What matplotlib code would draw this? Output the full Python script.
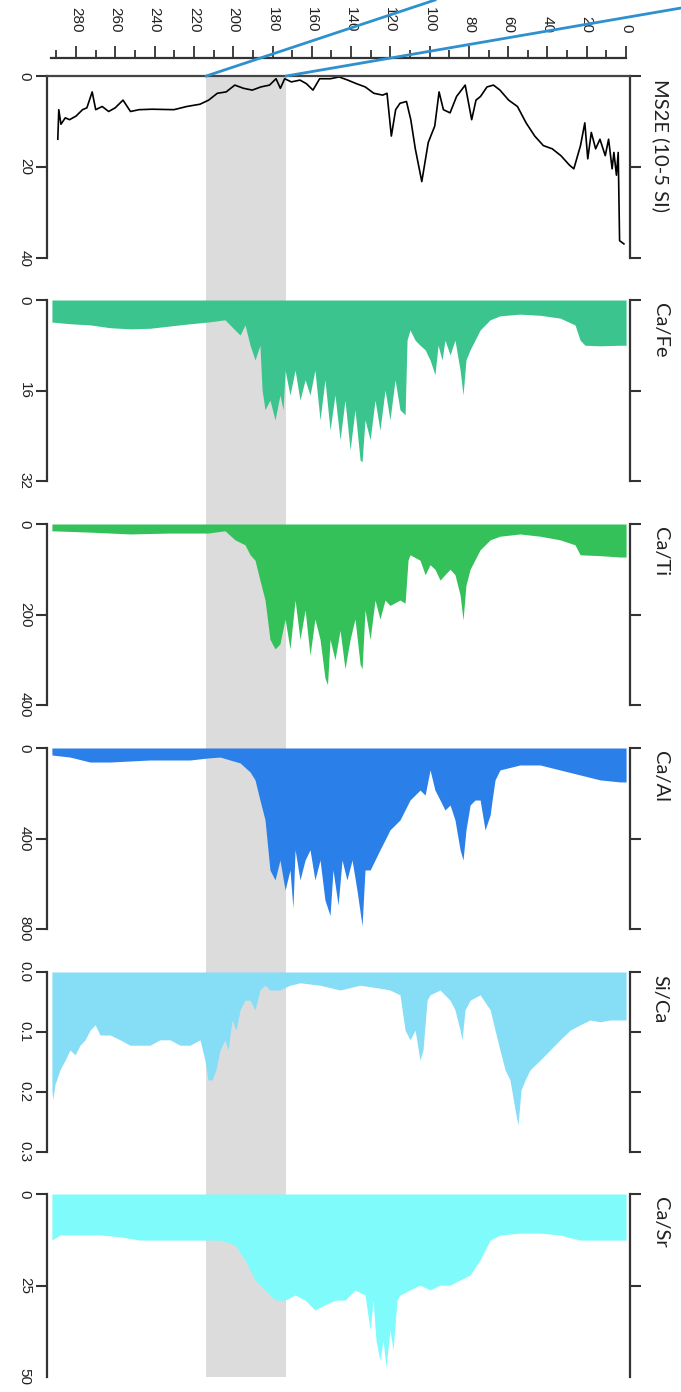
import numpy as np
import matplotlib
matplotlib.use('Agg')
import matplotlib.pyplot as plt
from matplotlib.lines import Line2D

# ---- data (depth in cm, values per proxy) ----
ms_depth = [289.3, 288.8, 287.7, 285.5, 283.3, 280.0, 276.7, 274.5, 271.8, 270.0, 266.7, 263.4,
            260.1, 256.1, 252.3, 247.9, 241.3, 230.2, 223.6, 216.9, 212.5, 208.1, 203.6, 199.2,
            194.8, 190.3, 185.9, 181.5, 178.2, 176.0, 173.8, 170.4, 166.0, 162.7, 159.4, 156.0,
            150.5, 146.1, 141.7, 137.2, 132.8, 128.4, 123.9, 121.7, 119.5, 117.3, 115.1, 111.8,
            109.6, 107.3, 104.0, 100.7, 97.4, 95.2, 93.0, 89.6, 86.3, 81.9, 78.6, 76.4, 74.1,
            70.8, 67.5, 64.2, 59.8, 55.3, 50.9, 46.5, 42.1, 37.6, 33.2, 28.8, 26.6, 23.2, 21.0,
            19.5, 17.7, 15.5, 13.3, 10.6, 8.9, 7.1, 6.2, 4.9, 4.0, 3.3, 1.1]
ms_vals = [13.9, 7.4, 10.6, 9.2, 9.6, 8.8, 7.4, 7.0, 3.5, 7.4, 6.7, 7.8,
           7.0, 5.3, 7.8, 7.4, 7.3, 7.4, 6.7, 6.2, 5.3, 3.8, 3.5, 2.0,
           2.7, 3.1, 2.4, 2.0, 0.6, 2.7, 0.6, 1.3, 0.9, 1.7, 3.1, 0.6,
           0.6, 0.2, 0.9, 1.7, 2.4, 3.8, 4.2, 3.8, 13.2, 7.4, 6.0, 5.6,
           9.6, 16.0, 23.2, 14.6, 11.0, 3.5, 7.4, 8.1, 4.5, 2.0, 9.6, 5.3, 4.5,
           2.4, 2.0, 3.1, 5.3, 6.7, 10.3, 13.2, 15.3, 16.0, 17.5, 19.6, 20.4, 15.3, 10.3,
           18.2, 12.4, 16.0, 13.9, 17.5, 13.9, 20.4, 16.8, 21.8, 16.8, 36.2, 36.9]

cafe_depth = [292.3, 283.0, 272.9, 262.7, 252.5, 242.4, 232.2, 222.0, 212.8, 204.2, 199.1, 196.5,
              194.0, 191.4, 188.9, 186.4, 185.3, 183.8, 181.3, 178.7, 176.2, 174.6, 173.6, 171.1,
              168.5, 166.0, 163.4, 160.9, 158.4, 155.8, 153.3, 150.7, 148.2, 145.6, 143.1, 140.5,
              138.0, 135.4, 134.4, 132.9, 130.3, 127.8, 125.3, 122.7, 120.2, 117.6, 115.1, 112.5,
              111.5, 110.0, 107.4, 104.9, 102.3, 99.8, 97.3, 95.7, 93.7, 92.2, 89.6, 87.1, 84.5,
              83.0, 81.5, 79.4, 76.9, 74.3, 69.2, 64.2, 54.0, 43.8, 33.6, 26.0, 23.4, 20.9, 13.2,
              3.1, 0.0]
cafe_vals = [3.9, 4.2, 4.4, 4.9, 5.1, 5.0, 4.6, 4.2, 3.9, 3.5, 5.3, 6.2,
             4.4, 8.0, 10.6, 8.0, 15.9, 19.4, 17.7, 21.2, 16.8, 19.4, 12.4, 16.8,
             12.4, 17.7, 14.1, 16.8, 12.4, 21.2, 14.1, 23.0, 16.8, 24.7, 17.7, 26.5,
             19.4, 28.3, 28.6, 21.2, 24.7, 17.7, 23.0, 15.9, 21.2, 14.1, 19.4, 20.3,
             7.1, 5.3, 7.1, 8.0, 8.8, 10.6, 13.2, 8.0, 10.6, 7.1, 9.7, 7.1, 12.4,
             16.8, 10.6, 8.8, 7.1, 5.3, 3.5, 2.8, 2.5, 2.7, 3.2, 4.4, 7.1, 8.0, 8.1,
             8.0, 8.0]

cati_depth = [292.3, 272.9, 252.5, 232.2, 212.8, 204.2, 199.1, 194.0, 191.4, 188.9, 186.4, 183.8,
              181.3, 178.7, 176.2, 173.6, 171.1, 168.5, 166.0, 163.4, 160.9, 158.4, 155.8, 153.3,
              152.0, 150.7, 148.2, 145.6, 143.1, 140.5, 138.0, 135.4, 134.4, 132.9, 130.3, 127.8,
              125.3, 122.7, 120.2, 115.1, 112.5, 111.0, 110.0, 104.9, 102.3, 99.8, 97.3, 94.7,
              92.2, 89.6, 87.1, 84.5, 83.0, 81.5, 79.4, 74.3, 69.2, 64.2, 54.0, 43.8, 33.6, 26.0,
              23.4, 13.2, 3.1, 0.0]
cati_vals = [15, 18, 22, 20, 20, 15, 35, 46, 68, 80, 124, 168,
             255, 276, 265, 210, 276, 168, 255, 190, 290, 210, 255, 340,
             355, 255, 300, 235, 320, 255, 210, 310, 320, 190, 255, 168,
             210, 168, 180, 168, 175, 80, 68, 80, 112, 90, 100, 124,
             112, 100, 112, 157, 212, 135, 100, 57, 35, 27, 22, 27, 35, 46,
             68, 70, 73, 73]

caal_depth = [292.3, 283.1, 272.9, 262.7, 242.4, 222.0, 212.8, 206.7, 201.6, 196.5, 191.4, 188.9,
              186.4, 183.8, 181.3, 178.7, 176.2, 173.6, 171.1, 169.6, 168.5, 166.0, 163.4, 160.9,
              158.4, 155.8, 153.3, 150.7, 149.2, 146.6, 144.6, 142.1, 139.5, 137.0, 134.4, 132.9,
              130.3, 127.8, 125.3, 122.7, 120.2, 115.1, 110.0, 104.9, 102.3, 99.8, 97.3, 94.7,
              92.2, 89.6, 87.1, 84.5, 83.0, 81.5, 79.4, 76.9, 74.3, 71.8, 69.2, 68.2, 66.7, 64.2,
              54.0, 43.8, 33.6, 23.4, 13.2, 3.1, 0.0]
caal_vals = [31, 40, 62, 62, 53, 53, 44, 40, 53, 66, 106, 141,
             230, 318, 539, 583, 495, 628, 539, 707, 450, 583, 495, 450,
             583, 495, 672, 740, 539, 694, 495, 583, 495, 628, 785, 539,
             539, 495, 450, 406, 362, 318, 230, 186, 208, 97, 186, 230,
             274, 252, 318, 450, 495, 362, 252, 230, 230, 362, 296, 230, 141, 97,
             75, 75, 97, 119, 141, 150, 150]

sica_depth = [292.3, 291.8, 290.8, 288.2, 285.6, 283.1, 280.5, 278.0, 275.4, 272.9, 270.3, 267.8,
              262.7, 257.6, 252.5, 247.5, 242.4, 237.3, 232.2, 227.1, 222.0, 216.9, 214.4, 212.8,
              210.8, 208.8, 206.7, 204.2, 202.6, 200.6, 198.6, 196.5, 194.0, 191.4, 188.9, 186.4,
              183.8, 181.3, 176.2, 171.1, 166.0, 155.8, 145.6, 135.4, 125.3, 120.2, 115.1, 112.5,
              110.0, 107.4, 104.9, 103.4, 101.3, 99.8, 94.7, 89.6, 87.1, 84.5, 83.5, 82.0, 79.4,
              74.3, 69.2, 66.7, 64.2, 61.6, 59.1, 56.5, 55.0, 53.5, 51.4, 48.9, 43.8, 38.7, 33.6,
              28.5, 23.4, 18.3, 13.2, 8.1, 3.1, 0.0]
sica_vals = [0.197, 0.213, 0.188, 0.163, 0.147, 0.130, 0.138, 0.122, 0.113, 0.097, 0.088, 0.105,
             0.105, 0.113, 0.122, 0.122, 0.122, 0.113, 0.113, 0.122, 0.122, 0.113, 0.147, 0.180,
             0.180, 0.163, 0.130, 0.113, 0.130, 0.080, 0.097, 0.063, 0.047, 0.047, 0.063, 0.030,
             0.022, 0.030, 0.030, 0.022, 0.018, 0.022, 0.030, 0.022, 0.027, 0.030, 0.038, 0.097,
             0.113, 0.097, 0.147, 0.130, 0.047, 0.038, 0.030, 0.047, 0.063, 0.097, 0.113, 0.063, 0.047,
             0.038, 0.063, 0.097, 0.130, 0.163, 0.180, 0.230, 0.255, 0.197, 0.180, 0.163, 0.147, 0.130, 0.113,
             0.097, 0.088, 0.080, 0.083, 0.080, 0.080, 0.080]

casr_depth = [292.3, 288.2, 278.0, 267.8, 257.6, 247.5, 237.3, 227.1, 216.9, 206.7, 199.1, 194.0,
              188.9, 183.8, 178.7, 173.6, 168.5, 163.4, 158.4, 153.3, 148.2, 143.1, 138.0, 132.9,
              130.3, 128.8, 127.3, 125.3, 123.7, 122.2, 120.2, 118.6, 116.6, 115.1, 110.0, 104.9,
              99.8, 94.7, 89.6, 84.5, 79.4, 74.3, 69.2, 64.2, 54.0, 43.8, 33.6, 23.4, 13.2, 3.1, 0.0]
casr_vals = [12.6, 11.2, 11.2, 11.2, 11.7, 12.6, 12.6, 12.6, 12.6, 12.6, 13.9, 18.0,
             23.5, 26.2, 29.0, 29.0, 27.6, 29.0, 31.7, 30.3, 29.0, 29.0, 26.2, 27.6,
             37.2, 29.0, 40.0, 45.4, 40.0, 47.3, 37.2, 42.6, 29.0, 27.6, 26.2, 24.9,
             26.2, 24.9, 24.9, 23.5, 22.1, 18.0, 12.6, 11.2, 10.7, 10.7, 11.2, 12.6, 12.6, 12.6, 12.6]

panel_names = ['MS2E (10-5 SI)', 'Ca/Fe', 'Ca/Ti', 'Ca/Al', 'Si/Ca', 'Ca/Sr']
panel_ticks = [[0, 20, 40], [0, 16, 32], [0, 200, 400], [0, 400, 800],
               [0.0, 0.1, 0.2, 0.3], [0, 25, 50]]
panel_ticklabels = [['0', '20', '40'], ['0', '16', '32'], ['0', '200', '400'], ['0', '400', '800'],
                    ['0.0', '0.1', '0.2', '0.3'], ['0', '25', '50']]
band = (213.7, 173.0)  # grey interval, depth

# ---- layout (pixels of a 681 x 1392 canvas) ----
W, H = 681, 1392
fig = plt.figure(figsize=(W / 100, H / 100), dpi=100)
x0, x1 = 47, 630
xlim = (294.8, -2.0)
tops = [76, 300, 524, 748, 972, 1194]
bots = [258, 481, 705, 929, 1152, 1377]
colors = [None, '#3cc48e', '#35c15a', '#2a7fe8', '#86ddf6', '#80fbfb']

# background axes for the grey band
bg = fig.add_axes([x0 / W, 1 - bots[-1] / H, (x1 - x0) / W, (bots[-1] - tops[0]) / H])
bg.set_xlim(xlim)
bg.axvspan(band[0], band[1], color='#dcdcdc', lw=0)
bg.axis('off')

series = [(ms_depth, ms_vals), (cafe_depth, cafe_vals), (cati_depth, cati_vals),
          (caal_depth, caal_vals), (sica_depth, sica_vals), (casr_depth, casr_vals)]

axes = []
for i in range(6):
    ax = fig.add_axes([x0 / W, 1 - bots[i] / H, (x1 - x0) / W, (bots[i] - tops[i]) / H])
    ax.patch.set_alpha(0)
    d, v = series[i]
    if i == 0:
        ax.plot(d, v, color='black', lw=1.2)
    else:
        ax.fill_between(d, 0, v, color=colors[i], lw=0)
    ax.set_xlim(xlim)
    ax.set_ylim(panel_ticks[i][-1], 0)
    ax.set_xticks([])
    ax.set_yticks(panel_ticks[i])
    ax.set_yticklabels(panel_ticklabels[i], rotation=-90, va='center', ha='center',
                       family='Liberation Sans', fontsize=11, color='#222222')
    ax.tick_params(axis='y', which='both', left=True, right=True, direction='out',
                   length=8, width=1.5, color='#333333', pad=8)
    ax.tick_params(axis='y', which='major', right=True, labelright=False)
    for s in ['left', 'right']:
        ax.spines[s].set_linewidth(1.6)
        ax.spines[s].set_color('#333333')
    ax.spines['bottom'].set_visible(False)
    ax.spines['top'].set_visible(i == 0)
    ax.spines['top'].set_linewidth(1.6)
    ax.spines['top'].set_color('#444444')
    ax.text(1.052, 0.985, panel_names[i], transform=ax.transAxes, rotation=-90,
            va='top', ha='center', family='Lato', fontsize=14.5, color='#222222')
    axes.append(ax)

# hide the bottom tick of the last panel
axes[-1].yaxis.get_major_ticks()[-1].tick1line.set_visible(False)
axes[-1].yaxis.get_major_ticks()[-1].tick2line.set_visible(False)

# depth scale on top
axt = fig.add_axes([51 / W, 1 - 58 / H, (626 - 51) / W, 0.0001])
axt.set_xlim(292.8, 0)
for s in ['left', 'right', 'bottom']:
    axt.spines[s].set_visible(False)
axt.spines['top'].set_linewidth(1.6)
axt.spines['top'].set_color('#333333')
axt.set_yticks([])
axt.xaxis.tick_top()
axt.set_xticks(np.arange(0, 281, 20))
axt.set_xticks(np.arange(10, 291, 20), minor=True)
axt.set_xticklabels([str(t) for t in range(0, 281, 20)], rotation=-90,
                    family='Liberation Sans', fontsize=11, color='#222222')
axt.tick_params(axis='x', which='major', direction='out', length=9, width=1.3,
                color='#333333', pad=9)
axt.tick_params(axis='x', which='minor', direction='out', length=6, width=1.3, color='#333333')

# connector lines from the grey band up to the parent record
ms_ax = axes[0]
for dep, end in zip(band, [(435 / W, 1.0), (1.0, 1 - 8 / H)]):
    start = fig.transFigure.inverted().transform(ms_ax.transData.transform((dep, 0)))
    fig.add_artist(Line2D([start[0], end[0]], [start[1], end[1]], transform=fig.transFigure,
                          color='#2e90cf', lw=2))

fig.savefig('out.png', dpi=100)
